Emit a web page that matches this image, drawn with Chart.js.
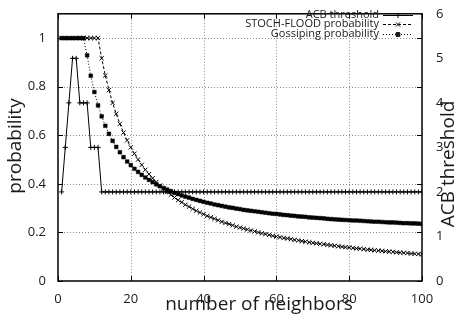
<!DOCTYPE html>
<html>
<head>
<meta charset="utf-8">
<script src="https://cdn.jsdelivr.net/npm/chart.js@4"></script>
<style>
  html, body { margin: 0; padding: 0; background: #fff; }
  #wrap { width: 458px; height: 321px; }
</style>
</head>
<body>
<div id="wrap"><canvas id="neighbors__chart" width="458" height="321"></canvas></div>
<script>
// number of neighbors 1..100
var neighbors = Array.from({ length: 100 }, (v, i) => i + 1);

// ACB threshold (right axis)
var acbThreshold = [
  2, 3, 4, 5, 5, 4, 4, 4, 3, 3, 3,
  2, 2, 2, 2, 2, 2, 2, 2, 2, 2, 2, 2, 2, 2, 2, 2, 2, 2, 2, 2,
  2, 2, 2, 2, 2, 2, 2, 2, 2, 2, 2, 2, 2, 2, 2, 2, 2, 2, 2, 2,
  2, 2, 2, 2, 2, 2, 2, 2, 2, 2, 2, 2, 2, 2, 2, 2, 2, 2, 2, 2,
  2, 2, 2, 2, 2, 2, 2, 2, 2, 2, 2, 2, 2, 2, 2, 2, 2, 2, 2, 2,
  2, 2, 2, 2, 2, 2, 2, 2, 2
];

// STOCH-FLOOD probability
var stochFlood = [
  1, 1, 1, 1, 1, 1, 1, 1, 1, 1, 1,
  0.917, 0.846, 0.786, 0.733, 0.688, 0.647, 0.611, 0.579, 0.550,
  0.524, 0.500, 0.478, 0.458, 0.440, 0.423, 0.407, 0.393, 0.379, 0.367,
  0.355, 0.344, 0.333, 0.324, 0.314, 0.306, 0.297, 0.289, 0.282, 0.275,
  0.268, 0.262, 0.256, 0.250, 0.244, 0.239, 0.234, 0.229, 0.224, 0.220,
  0.216, 0.212, 0.208, 0.204, 0.200, 0.196, 0.193, 0.190, 0.186, 0.183,
  0.180, 0.177, 0.175, 0.172, 0.169, 0.167, 0.164, 0.162, 0.159, 0.157,
  0.155, 0.153, 0.151, 0.149, 0.147, 0.145, 0.143, 0.141, 0.139, 0.138,
  0.136, 0.134, 0.133, 0.131, 0.129, 0.128, 0.126, 0.125, 0.124, 0.122,
  0.121, 0.120, 0.118, 0.117, 0.116, 0.115, 0.113, 0.112, 0.111, 0.110
];

// Gossiping probability
var gossiping = [
  1, 1, 1, 1, 1, 1, 1,
  0.929, 0.845, 0.778,
  0.723, 0.678, 0.639, 0.606, 0.577, 0.552, 0.530, 0.510, 0.492, 0.477,
  0.462, 0.449, 0.437, 0.426, 0.416, 0.407, 0.398, 0.390, 0.383, 0.376,
  0.370, 0.363, 0.358, 0.352, 0.347, 0.343, 0.338, 0.334, 0.330, 0.326,
  0.322, 0.319, 0.315, 0.312, 0.309, 0.306, 0.303, 0.301, 0.298, 0.296,
  0.293, 0.291, 0.289, 0.287, 0.285, 0.283, 0.281, 0.279, 0.277, 0.276,
  0.274, 0.272, 0.271, 0.269, 0.268, 0.266, 0.265, 0.264, 0.262, 0.261,
  0.260, 0.259, 0.258, 0.256, 0.255, 0.254, 0.253, 0.252, 0.251, 0.250,
  0.249, 0.249, 0.248, 0.247, 0.246, 0.245, 0.244, 0.244, 0.243, 0.242,
  0.241, 0.241, 0.240, 0.239, 0.238, 0.238, 0.237, 0.237, 0.236, 0.235
];

var xTicks = [0, 20, 40, 60, 80, 100];
var yTicks = [0, 0.2, 0.4, 0.6, 0.8, 1];
var y2Ticks = [0, 1, 2, 3, 4, 5, 6];

var FONT = "'Open Sans', 'Noto Sans', sans-serif";
var INK = "#1a1a1a";

function toPoints(ys) {
  return neighbors.map((x, i) => ({ x: x, y: ys[i] }));
}

// ----------------------------------- dotted grid under the lines ----------
var dottedGrid = {
  id: "dottedGrid",
  beforeDatasetsDraw(chart) {
    var ctx = chart.ctx;
    var a = chart.chartArea;
    var sx = chart.scales.x, sy = chart.scales.y;
    ctx.save();
    ctx.beginPath();
    ctx.rect(a.left, a.top, a.right - a.left, a.bottom - a.top);
    ctx.clip();
    ctx.strokeStyle = "#8a8a8a";
    ctx.lineWidth = 1;
    ctx.setLineDash([1, 2]);
    xTicks.slice(1, -1).forEach((v) => {
      var px = Math.round(sx.getPixelForValue(v)) + 0.5;
      ctx.beginPath();
      ctx.moveTo(px, a.top); ctx.lineTo(px, a.bottom);
      ctx.stroke();
    });
    yTicks.slice(1).forEach((v) => {
      var py = Math.round(sy.getPixelForValue(v)) + 0.5;
      ctx.beginPath();
      ctx.moveTo(a.left, py); ctx.lineTo(a.right, py);
      ctx.stroke();
    });
    ctx.restore();
  },
};

// ----------------------------------- frame, inward ticks, titles, legend ----------
var gnuplotLook = {
  id: "gnuplotLook",
  afterDatasetsDraw(chart) {
    var ctx = chart.ctx;
    var a = chart.chartArea;
    var sx = chart.scales.x, sy = chart.scales.y;
    ctx.save();
    ctx.setLineDash([]);
    ctx.strokeStyle = "#000";
    ctx.lineWidth = 1;
    xTicks.forEach((v) => {
      var px = Math.round(sx.getPixelForValue(v)) + 0.5;
      ctx.beginPath();
      ctx.moveTo(px, a.bottom); ctx.lineTo(px, a.bottom - 5);
      ctx.moveTo(px, a.top); ctx.lineTo(px, a.top + 5);
      ctx.stroke();
    });
    yTicks.forEach((v) => {
      var py = Math.round(sy.getPixelForValue(v)) + 0.5;
      ctx.beginPath();
      ctx.moveTo(a.left, py); ctx.lineTo(a.left + 5, py);
      ctx.moveTo(a.right, py); ctx.lineTo(a.right - 5, py);
      ctx.stroke();
    });
    ctx.lineWidth = 1.5;
    ctx.strokeRect(a.left, a.top, a.right - a.left, a.bottom - a.top);

    // axis titles
    ctx.fillStyle = INK;
    ctx.font = "19px " + FONT;
    ctx.textAlign = "center";
    ctx.textBaseline = "middle";
    ctx.fillText("number of neighbors", 259, 305);
    ctx.save();
    ctx.translate(16, 146);
    ctx.rotate(-Math.PI / 2);
    ctx.fillText("probability", 0, 0);
    ctx.restore();
    ctx.save();
    ctx.translate(449, 164);
    ctx.rotate(-Math.PI / 2);
    ctx.fillText("ACB threshold", 0, 0);
    ctx.restore();

    // legend
    ctx.font = "11px " + FONT;
    ctx.textAlign = "right";
    chart.data.datasets.forEach((ds, i) => {
      var ly = 14.5 + i * 9.5;
      ctx.fillStyle = INK;
      ctx.fillText(ds.label, 379, ly);
      ctx.strokeStyle = "#000";
      ctx.lineWidth = 1;
      ctx.setLineDash(ds.borderDash || []);
      ctx.beginPath();
      ctx.moveTo(383, Math.round(ly) + 0.5);
      ctx.lineTo(413, Math.round(ly) + 0.5);
      ctx.stroke();
      ctx.setLineDash([]);
      Chart.helpers.drawPoint(ctx, {
        pointStyle: ds.pointStyle,
        radius: ds.pointRadius,
        borderWidth: 1,
      }, 398, Math.round(ly) + 0.5);
      if (ds.pointStyle === "rect") ctx.fill();
    });
    ctx.restore();
  },
};

var dataChart = {
  datasets: [
    {
      label: "ACB threshold",
      data: toPoints(acbThreshold),
      yAxisID: "y2",
      borderColor: "#000",
      backgroundColor: "#000",
      borderWidth: 1,
      pointStyle: "cross",
      pointRadius: 2.5,
      pointBorderWidth: 1,
    },
    {
      label: "STOCH-FLOOD probability",
      data: toPoints(stochFlood),
      yAxisID: "y",
      borderColor: "#000",
      backgroundColor: "#000",
      borderWidth: 1,
      borderDash: [3, 2],
      pointStyle: "crossRot",
      pointRadius: 3,
      pointBorderWidth: 1,
    },
    {
      label: "Gossiping probability",
      data: toPoints(gossiping),
      yAxisID: "y",
      borderColor: "#000",
      backgroundColor: "#000",
      borderWidth: 1,
      borderDash: [1, 2],
      pointStyle: "rect",
      pointRadius: 2.6,
      pointBorderWidth: 0.5,
    },
  ],
};

var options = {
  responsive: false,
  animation: false,
  layout: { padding: { top: 9, left: 0, right: 0, bottom: 0 } },
  plugins: { legend: { display: false }, tooltip: { enabled: false } },
  scales: {
    x: {
      type: "linear",
      min: 0,
      max: 100,
      afterFit: (s) => { s.height = 40; },
      afterBuildTicks: (s) => { s.ticks = xTicks.map((v) => ({ value: v })); },
      ticks: { font: { family: FONT, size: 13 }, color: INK, padding: 2, maxRotation: 0 },
      grid: { display: false },
      border: { display: false },
    },
    y: {
      position: "left",
      min: 0,
      max: 1.1,
      afterFit: (s) => { s.width = 58; },
      afterBuildTicks: (s) => { s.ticks = yTicks.map((v) => ({ value: v })); },
      ticks: {
        font: { family: FONT, size: 13 },
        color: INK,
        padding: 4,
        callback: (v) => (Math.round(v * 10) / 10).toString(),
      },
      grid: { display: false },
      border: { display: false },
    },
    y2: {
      position: "right",
      min: 0,
      max: 6,
      afterFit: (s) => { s.width = 36; },
      afterBuildTicks: (s) => { s.ticks = y2Ticks.map((v) => ({ value: v })); },
      ticks: { font: { family: FONT, size: 13 }, color: INK, padding: 6 },
      grid: { display: false },
      border: { display: false },
    },
  },
};

var ctxChart = document.getElementById("neighbors__chart");
var lineChart = new Chart(ctxChart, {
  type: "line",
  data: dataChart,
  options: options,
  plugins: [dottedGrid, gnuplotLook],
});
</script>
</body>
</html>
